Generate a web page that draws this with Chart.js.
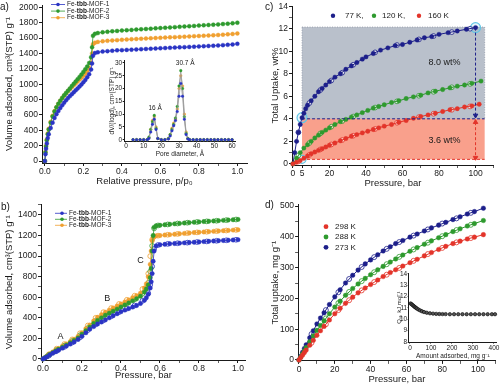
<!DOCTYPE html>
<html lang="en">
<head>
<meta charset="UTF-8">
<title>Fe-tbb-MOF adsorption</title>
<script src="https://cdn.jsdelivr.net/npm/chart.js"></script>
<style>
    body { margin: 0; background: #fff; font-family: 'Liberation Sans', Arial, sans-serif; }
    #fig { position: relative; width: 500px; height: 385px; overflow: hidden; }
    #fig canvas { position: absolute; }
    .tag { position: absolute; font-size: 10px; line-height: 1; color: #1a1a1a; }
</style>
</head>
<body>
<div id="fig">
    <canvas id="chartA" width="250" height="192" style="left:0;top:0"></canvas>
    <canvas id="chartC" width="250" height="192" style="left:250px;top:0"></canvas>
    <canvas id="chartB" width="250" height="193" style="left:0;top:192px"></canvas>
    <canvas id="chartD" width="250" height="193" style="left:250px;top:192px"></canvas>
    <canvas id="insetA" width="145" height="112" style="left:100px;top:52px"></canvas>
    <canvas id="insetD" width="106" height="98" style="left:394px;top:268px"></canvas>
    <div class="tag" style="left:0;top:2px">a)</div>
    <div class="tag" style="left:265px;top:2px">c)</div>
    <div class="tag" style="left:1px;top:202px">b)</div>
    <div class="tag" style="left:265px;top:200px">d)</div>
</div>
<script>
// ---------- a) N2 isotherms ----------
const A_NAMES = ['Fe-tbb-MOF-1', 'Fe-tbb-MOF-2', 'Fe-tbb-MOF-3'];
const A_P = [0, 0.003, 0.006, 0.01, 0.015, 0.02, 0.03, 0.04, 0.05, 0.06, 0.07, 0.08, 0.09, 0.1, 0.11, 0.12, 0.13, 0.14, 0.15, 0.16, 0.17, 0.18, 0.19, 0.2, 0.21, 0.22, 0.23, 0.24, 0.245, 0.25, 0.26, 0.275, 0.3, 0.325, 0.35, 0.375, 0.4, 0.425, 0.45, 0.475, 0.5, 0.525, 0.55, 0.575, 0.6, 0.625, 0.65, 0.675, 0.7, 0.725, 0.75, 0.775, 0.8, 0.825, 0.85, 0.875, 0.9, 0.925, 0.95, 0.975, 1.0];
const A_MOF1 = [0, 90, 160, 230, 300, 350, 430, 500, 560, 610, 650, 690, 725, 760, 790, 820, 845, 870, 895, 920, 945, 970, 995, 1025, 1055, 1090, 1130, 1190, 1270, 1370, 1405, 1415, 1424, 1430, 1435, 1440, 1443, 1446, 1449, 1452, 1455, 1458, 1461, 1464, 1467, 1470, 1473, 1476, 1479, 1482, 1485, 1488, 1491, 1494, 1497, 1500, 1504, 1508, 1512, 1517, 1525];
const A_MOF2 = [0, 110, 190, 270, 350, 410, 500, 580, 645, 700, 745, 785, 820, 855, 885, 915, 945, 975, 1005, 1035, 1065, 1095, 1125, 1160, 1195, 1230, 1275, 1350, 1480, 1630, 1655, 1665, 1675, 1682, 1688, 1693, 1698, 1702, 1706, 1710, 1714, 1718, 1722, 1726, 1730, 1734, 1738, 1742, 1746, 1750, 1754, 1758, 1762, 1766, 1770, 1774, 1778, 1782, 1787, 1792, 1800];
const A_MOF3 = [0, 120, 200, 280, 360, 420, 510, 590, 650, 700, 745, 785, 820, 850, 880, 910, 935, 960, 985, 1010, 1035, 1060, 1085, 1110, 1140, 1170, 1210, 1280, 1400, 1520, 1540, 1550, 1558, 1564, 1569, 1573, 1577, 1581, 1585, 1588, 1591, 1594, 1597, 1600, 1603, 1606, 1609, 1612, 1615, 1618, 1621, 1624, 1627, 1630, 1633, 1636, 1640, 1644, 1648, 1653, 1660];
const A_XTICKS = [0, 0.1, 0.2, 0.3, 0.4, 0.5, 0.6, 0.7, 0.8, 0.9, 1.0];
const A_XLABELS = [0, 0.2, 0.4, 0.6, 0.8, 1.0];
const A_YTICKS = [0, 200, 400, 600, 800, 1000, 1200, 1400, 1600, 1800, 2000];

// inset of a) pore size distribution
const IA_D = [4, 6, 8, 10, 12, 13, 14, 15, 16, 17, 18, 20, 22, 24, 25, 26, 27, 28, 29, 30, 31, 32, 33, 34, 35, 36, 38, 40, 42, 44, 46, 48, 50, 52, 54, 56, 58, 60];
const IA_MOF1 = [0, 0, 0, 0, 0, 0.5, 3, 6, 8, 4, 0.5, 0, 0, 0.3, 1.5, 3.5, 5.5, 7.5, 11, 17, 22, 17, 8, 2, 0.3, 0, 0, 0, 0, 0, 0, 0, 0, 0, 0, 0, 0, 0];
const IA_MOF2 = [0, 0, 0, 0, 0, 1, 4, 7, 9.5, 4.5, 0.5, 0, 0, 0.5, 2, 4, 6, 8.5, 13, 21, 27, 20, 9, 2.5, 0.5, 0, 0, 0, 0, 0, 0, 0, 0, 0, 0, 0, 0, 0];
const IA_MOF3 = [0, 0, 0, 0, 0, 0.8, 4, 7.5, 9, 5, 0.5, 0, 0, 0.5, 2, 4.5, 6.5, 8, 12, 20, 25, 21, 10, 3, 0.5, 0, 0, 0, 0, 0, 0, 0, 0, 0, 0, 0, 0, 0];
const IA_XTICKS = [0, 10, 20, 30, 40, 50, 60];
const IA_YTICKS = [0, 5, 10, 15, 20, 25, 30];

// ---------- b) isotherms, adsorption + desorption ----------
const B_P = [0, 0.01, 0.02, 0.035, 0.05, 0.065, 0.08, 0.1, 0.12, 0.14, 0.16, 0.18, 0.2, 0.22, 0.24, 0.26, 0.28, 0.3, 0.32, 0.34, 0.36, 0.38, 0.4, 0.42, 0.44, 0.46, 0.48, 0.5, 0.52, 0.53, 0.54, 0.55, 0.555, 0.56, 0.565, 0.57, 0.58, 0.6, 0.625, 0.65, 0.675, 0.7, 0.725, 0.75, 0.775, 0.8, 0.825, 0.85, 0.875, 0.9, 0.925, 0.95, 0.975, 1.0];
const B_MOF1 = [0, 10, 20, 40, 55, 70, 85, 105, 125, 145, 165, 190, 220, 255, 290, 315, 340, 360, 380, 400, 420, 440, 460, 475, 490, 505, 520, 540, 570, 595, 630, 690, 750, 830, 950, 1050, 1100, 1110, 1115, 1120, 1123, 1126, 1129, 1132, 1135, 1138, 1141, 1144, 1147, 1150, 1152, 1155, 1157, 1160];
const B_MOF2 = [0, 12, 25, 45, 62, 78, 95, 115, 135, 158, 180, 205, 240, 275, 310, 345, 375, 400, 425, 445, 465, 485, 505, 525, 545, 565, 585, 610, 650, 680, 720, 790, 880, 1050, 1200, 1280, 1295, 1300, 1305, 1310, 1314, 1318, 1322, 1326, 1330, 1333, 1336, 1339, 1342, 1345, 1348, 1351, 1354, 1357];
const B_MOF3 = [0, 13, 28, 50, 68, 85, 102, 125, 145, 168, 192, 220, 255, 295, 330, 370, 405, 430, 455, 475, 495, 515, 535, 555, 575, 595, 615, 640, 690, 730, 800, 920, 1050, 1150, 1180, 1192, 1197, 1200, 1205, 1209, 1213, 1217, 1221, 1225, 1229, 1232, 1235, 1238, 1241, 1244, 1247, 1250, 1253, 1256];
const B_DP = [0.03, 0.07, 0.11, 0.15, 0.19, 0.23, 0.27, 0.31, 0.35, 0.39, 0.43, 0.47, 0.51, 0.54, 0.55, 0.56, 0.57, 0.59, 0.64, 0.69, 0.74, 0.79, 0.84, 0.89, 0.94, 0.99];
const B_DES1 = [32, 78, 118, 160, 210, 280, 335, 375, 415, 455, 490, 520, 565, 640, 720, 900, 1070, 1108, 1119, 1125, 1131, 1137, 1143, 1149, 1154, 1159];
const B_DES2 = [38, 88, 130, 175, 230, 300, 370, 420, 460, 500, 540, 580, 635, 740, 850, 1100, 1270, 1298, 1308, 1317, 1325, 1332, 1338, 1344, 1350, 1356];
const B_DES3 = [45, 100, 145, 190, 250, 325, 400, 455, 495, 535, 575, 615, 680, 830, 1000, 1160, 1192, 1199, 1208, 1216, 1224, 1231, 1237, 1243, 1249, 1255];
const B_YTICKS = [0, 100, 200, 300, 400, 500, 600, 700, 800, 900, 1000, 1100, 1200, 1300, 1400, 1500];
const B_YLABELS = [0, 200, 400, 600, 800, 1000, 1200, 1400];

// ---------- c) H2 uptake ----------
const C_TEMPS = ['77 K,', '120 K,', '160 K'];
const C_P77 = [0, 1, 2, 3, 4, 5, 6, 7, 8, 10, 12, 14, 16, 18, 20, 23, 26, 29, 32, 35, 38, 40, 44, 48, 52, 56, 60, 64, 68, 72, 76, 80, 85, 90, 95, 100];
const C_77 = [0, 1.0, 2.0, 2.8, 3.5, 4.1, 4.5, 4.9, 5.2, 5.6, 6.0, 6.4, 6.7, 7.0, 7.3, 7.7, 8.0, 8.4, 8.7, 9.0, 9.3, 9.5, 9.8, 10.1, 10.3, 10.5, 10.6, 10.8, 11.0, 11.2, 11.3, 11.5, 11.65, 11.8, 11.95, 12.1];
const C_P120 = [0, 2, 4, 6, 8, 10, 12, 14, 16, 18, 20, 23, 26, 29, 32, 35, 38, 41, 44, 47, 50, 54, 58, 62, 66, 70, 74, 78, 82, 86, 90, 94, 98, 103];
const C_120 = [0, 0.5, 1.0, 1.4, 1.7, 2.0, 2.3, 2.55, 2.8, 3.0, 3.2, 3.5, 3.75, 3.95, 4.15, 4.35, 4.55, 4.75, 4.95, 5.1, 5.25, 5.45, 5.6, 5.8, 5.95, 6.1, 6.3, 6.45, 6.6, 6.75, 6.9, 7.0, 7.15, 7.35];
const C_P160 = [0, 2, 4, 6, 8, 10, 12, 14, 16, 18, 20, 23, 26, 29, 32, 35, 38, 41, 44, 47, 50, 54, 58, 62, 66, 70, 74, 78, 82, 86, 90, 94, 98, 102];
const C_160 = [0, 0.15, 0.3, 0.5, 0.7, 0.9, 1.05, 1.2, 1.35, 1.5, 1.65, 1.85, 2.05, 2.25, 2.45, 2.6, 2.75, 2.9, 3.05, 3.2, 3.35, 3.5, 3.7, 3.85, 4.05, 4.2, 4.35, 4.5, 4.65, 4.8, 4.9, 5.05, 5.15, 5.3];
const C_DP = [3, 9, 15, 21, 27, 33, 45, 57, 69, 77, 87, 97];
const C_D77 = [2.8, 5.4, 6.55, 7.4, 8.1, 8.8, 9.9, 10.55, 11.05, 11.35, 11.7, 12.0];
const C_D120 = [0.75, 1.85, 2.7, 3.3, 3.8, 4.2, 5.0, 5.55, 6.05, 6.4, 6.8, 7.1];
const C_D160 = [0.22, 0.8, 1.28, 1.72, 2.12, 2.5, 3.1, 3.65, 4.15, 4.45, 4.8, 5.1];
// working-capacity marks: 5 bar and 100 bar
const C_LOW = 5, C_HIGH = 100, C_END = 105;
const C_UP77_LOW = 4.0, C_UP77_HIGH = 12.1, C_UP160_LOW = 0.4;
const C_XTICKS = [0, 5, 10, 20, 30, 40, 50, 60, 70, 80, 90, 100, 110];
const C_XLABELS = [0, 5, 20, 40, 60, 80, 100];
const C_YTICKS = [0, 1, 2, 3, 4, 5, 6, 7, 8, 9, 10, 11, 12, 13, 14];
const C_YLABELS = [0, 2, 4, 6, 8, 10, 12, 14];

// ---------- d) CH4 uptake ----------
const D_TEMPS = ['298 K', '288 K', '273 K'];
const D_P = [0, 1, 2, 3, 4, 6, 8, 10, 12, 14, 17, 20, 23, 26, 30, 33, 37, 40, 44, 47, 51, 54, 58, 62, 66, 70, 74, 78, 82, 86, 90, 94, 98, 103];
const D_298 = [0, 8, 16, 24, 32, 48, 64, 80, 95, 109, 130, 150, 168, 184, 204, 218, 234, 245, 260, 271, 284, 293, 305, 316, 327, 338, 349, 359, 369, 378, 386, 393, 399, 407];
const D_288 = [0, 10, 20, 30, 40, 59, 78, 96, 112, 127, 150, 172, 191, 210, 232, 247, 265, 277, 293, 304, 318, 328, 341, 353, 365, 376, 387, 397, 407, 417, 426, 435, 443, 453];
const D_273 = [0, 12, 25, 37, 49, 72, 95, 117, 136, 153, 180, 205, 228, 250, 275, 292, 312, 325, 342, 354, 368, 378, 388, 399, 409, 419, 429, 438, 447, 456, 465, 474, 482, 493];
const D_DP = [7, 15, 22, 28, 35, 42, 49, 56, 64, 72, 80, 88, 96];
const D_D298 = [56, 116, 162, 194, 226, 253, 277, 299, 322, 344, 364, 382, 396];
const D_D288 = [69, 135, 185, 221, 256, 285, 311, 335, 359, 381, 402, 422, 439];
const D_D273 = [84, 162, 220, 263, 302, 334, 361, 383, 404, 424, 443, 460, 478];
const D_XTICKS = [0, 10, 20, 30, 40, 50, 60, 70, 80, 90, 100, 110];
const D_XLABELS = [0, 20, 40, 60, 80, 100];
const D_YTICKS = [0, 50, 100, 150, 200, 250, 300, 350, 400, 450, 500];
const D_YLABELS = [0, 100, 200, 300, 400, 500];

// inset of d) isosteric heat
const ID_AMT = [3, 8, 13, 18, 23, 28, 33, 40, 48, 57, 67, 80, 95, 110, 125, 140, 155, 170, 190, 210, 230, 250, 270, 290, 310, 330, 350, 370, 390, 405];
const ID_QST = [11.4, 11.33, 11.25, 11.17, 11.09, 11.02, 10.95, 10.87, 10.79, 10.71, 10.64, 10.58, 10.53, 10.5, 10.48, 10.47, 10.46, 10.46, 10.45, 10.45, 10.45, 10.45, 10.45, 10.45, 10.45, 10.45, 10.45, 10.45, 10.45, 10.45];
const ID_XTICKS = [0, 100, 200, 300, 400];
const ID_YTICKS = [8, 9, 10, 11, 12, 13, 14];

// colours
const BLUE = '#2a34c4', GREEN = '#2e9a2e', ORANGE = '#f0a030';
const NAVY = '#1d1f8a', RED = '#e3342a', CYAN = '#62c6e6';
const INK = '#1a1a1a';
const FONT = "'Liberation Sans', Arial, sans-serif";

Chart.defaults.font.family = FONT;
Chart.defaults.color = INK;
Chart.defaults.animation = false;

const xy = (xs, ys) => xs.map((x, i) => ({ x, y: ys[i] }));

// draws shaded boxes, text notes and hand-placed legends
const extras = {
    id: 'extras',
    beforeDatasetsDraw(chart, args, o) {
        const { ctx, scales: { x, y } } = chart;
        (o.boxes || []).forEach(b => {
            const l = x.getPixelForValue(b.x0), r = x.getPixelForValue(b.x1);
            const t = y.getPixelForValue(b.y1), bt = y.getPixelForValue(b.y0);
            ctx.save();
            ctx.fillStyle = b.fill;
            ctx.fillRect(l, t, r - l, bt - t);
            if (b.edge) {
                ctx.strokeStyle = b.edge;
                ctx.lineWidth = 0.8;
                ctx.setLineDash([1, 1.5]);
                ctx.strokeRect(l, t, r - l, bt - t);
            }
            ctx.restore();
        });
    },
    afterDatasetsDraw(chart, args, o) {
        const { ctx, scales: { x, y } } = chart;
        ctx.save();
        ctx.textBaseline = 'middle';
        (o.notes || []).forEach(n => {
            ctx.fillStyle = INK;
            ctx.textAlign = 'center';
            ctx.font = n.size + 'px ' + FONT;
            ctx.fillText(n.text, x.getPixelForValue(n.x), y.getPixelForValue(n.y));
        });
        (o.keys || []).forEach(k => {
            if (k.line) {
                ctx.strokeStyle = k.color;
                ctx.lineWidth = 0.8;
                ctx.beginPath();
                ctx.moveTo(k.line[0], k.my);
                ctx.lineTo(k.line[1], k.my);
                ctx.stroke();
            }
            ctx.beginPath();
            ctx.arc(k.mx, k.my, k.r, 0, Math.PI * 2);
            ctx.fillStyle = k.color;
            ctx.fill();
            ctx.textAlign = 'left';
            ctx.fillStyle = INK;
            let tx = k.tx;
            // "tbb" is set in bold in the original legend
            k.text.split(/(tbb)/).forEach(part => {
                ctx.font = (part === 'tbb' ? 'bold ' : '') + k.size + 'px ' + FONT;
                ctx.fillText(part, tx, k.my);
                tx += ctx.measureText(part).width;
            });
        });
        ctx.restore();
    }
};

function axis(o) {
    const vertical = o.pos === 'left';
    return {
        type: 'linear', position: o.pos, min: o.min, max: o.max,
        afterBuildTicks: s => { s.ticks = o.ticks.map(v => ({ value: v })); },
        afterFit: s => {
            if (vertical) { s.width = o.size; s.paddingTop = 0; s.paddingBottom = 0; }
            else { s.height = o.size; s.paddingLeft = 0; s.paddingRight = 0; }
        },
        ticks: {
            autoSkip: false, maxRotation: 0, padding: o.pad ?? 1, color: INK,
            font: { size: o.fs ?? 8.5 },
            callback: v => (o.labels || o.ticks).includes(v) ? (o.fmt ? o.fmt(v) : String(v)) : ''
        },
        grid: {
            drawOnChartArea: false, drawTicks: true, tickLength: o.tl ?? 3, tickColor: INK,
            tickWidth: c => (o.labels || o.ticks).includes(c.tick.value) ? 1 : 0.7
        },
        border: { display: true, color: INK, width: 1 },
        title: {
            display: true, text: o.title, color: INK, font: { size: o.tfs ?? 9.5 },
            padding: vertical ? { top: o.tpad, bottom: 0 } : { top: 0, bottom: o.tpad }
        }
    };
}

function series(data, color, r, extra) {
    return Object.assign({
        data, showLine: true, clip: false,
        borderColor: color, borderWidth: 0.8,
        pointRadius: r, pointHoverRadius: r,
        pointBackgroundColor: color, pointBorderColor: color, pointBorderWidth: 0.4
    }, extra || {});
}

function hollow(data, color, r) {
    return {
        data, showLine: false, clip: false,
        pointRadius: r, pointHoverRadius: r,
        pointBackgroundColor: 'rgba(255,255,255,0.6)', pointBorderColor: color, pointBorderWidth: 0.8
    };
}

function make(id, datasets, xAxis, yAxis, pad, extraOpts) {
    return new Chart(document.getElementById(id), {
        type: 'scatter',
        data: { datasets },
        options: {
            responsive: false, animation: false, events: [],
            layout: { padding: pad },
            scales: { x: xAxis, y: yAxis },
            plugins: { legend: { display: false }, tooltip: { enabled: false }, extras: extraOpts }
        },
        plugins: [extras]
    });
}

// a)
make('chartA', [
    series(xy(A_P, A_MOF1), BLUE, 2),
    series(xy(A_P, A_MOF2), GREEN, 2),
    series(xy(A_P, A_MOF3), ORANGE, 2)
],
axis({ pos: 'bottom', min: -0.015, max: 1.05, ticks: A_XTICKS, labels: A_XLABELS, fmt: v => v.toFixed(1),
       size: 29, title: 'Relative pressure, p/p\u2080', tpad: 5 }),
axis({ pos: 'left', min: -25, max: 2030, ticks: A_YTICKS, size: 42,
       title: 'Volume adsorbed, cm\u00b3(STP) g\u207b\u00b9', tpad: 3.3 }),
{ left: 0, top: 5, right: 3, bottom: 0 },
{ keys: A_NAMES.map((t, i) => ({ text: t, color: [BLUE, GREEN, ORANGE][i], mx: 58, my: 4.5 + 6.6 * i, r: 1.8, tx: 67, line: [51, 65], size: 6.5 })) });

make('insetA', [
    series(xy(IA_D, IA_MOF1), BLUE, 1.3, { borderColor: '#9a9a9a' }),
    series(xy(IA_D, IA_MOF2), GREEN, 1.3, { borderColor: '#9a9a9a' }),
    series(xy(IA_D, IA_MOF3), ORANGE, 1.3, { borderColor: '#9a9a9a' })
],
axis({ pos: 'bottom', min: -1, max: 62, ticks: IA_XTICKS, size: 23, title: 'Pore diameter, \u00c5',
       tpad: 5.8, fs: 6.5, tfs: 6.5, tl: 1.5, pad: 0 }),
axis({ pos: 'left', min: -0.5, max: 31, ticks: IA_YTICKS, size: 24.2, title: 'dV/(logd), cm\u00b3(STP) g\u207b\u00b9',
       tpad: 8, fs: 6.5, tfs: 6.5, tl: 1.5, pad: 0.5 }),
{ left: 0, top: 8.4, right: 9.4, bottom: 0 },
{ notes: [ { text: '16 \u00c5', x: 16.5, y: 12.5, size: 6.5 }, { text: '30.7 \u00c5', x: 33.5, y: 29.8, size: 6.5 } ] });

// b)
make('chartB', [
    series(xy(B_P, B_MOF1), BLUE, 2.2),
    series(xy(B_P, B_MOF2), GREEN, 2.2),
    series(xy(B_P, B_MOF3), ORANGE, 2.2),
    hollow(xy(B_DP, B_DES1), BLUE, 2.4),
    hollow(xy(B_DP, B_DES2), GREEN, 2.4),
    hollow(xy(B_DP, B_DES3), ORANGE, 2.4)
],
axis({ pos: 'bottom', min: -0.01, max: 1.04, ticks: A_XTICKS, labels: A_XLABELS, fmt: v => v.toFixed(1),
       size: 25, title: 'Pressure, bar', tpad: 4.3 }),
axis({ pos: 'left', min: -10, max: 1500, ticks: B_YTICKS, labels: B_YLABELS, size: 41,
       title: 'Volume adsorbed, cm\u00b3(STP) g\u207b\u00b9', tpad: 3.3 }),
{ left: 0, top: 12.7, right: 4.2, bottom: 0 },
{
    keys: A_NAMES.map((t, i) => ({ text: t, color: [BLUE, GREEN, ORANGE][i], mx: 62, my: 21.3 + 6 * i, r: 1.8, tx: 69, line: [55, 67], size: 6.5 })),
    notes: [ { text: 'A', x: 0.09, y: 215, size: 9 }, { text: 'B', x: 0.33, y: 590, size: 9 }, { text: 'C', x: 0.5, y: 960, size: 9 } ]
});

// c)
make('chartC', [
    { data: [{ x: C_LOW, y: C_UP77_LOW }, { x: C_END, y: C_UP77_LOW }], showLine: true, clip: false, borderColor: NAVY, borderWidth: 1, borderDash: [3, 2], pointRadius: 0 },
    { data: [{ x: C_LOW, y: C_UP160_LOW }, { x: C_END, y: C_UP160_LOW }], showLine: true, clip: false, borderColor: RED, borderWidth: 1, borderDash: [3, 2], pointRadius: 0 },
    { data: [{ x: C_HIGH, y: C_UP77_HIGH }, { x: C_HIGH, y: C_UP77_LOW + 0.3 }], showLine: true, clip: false, borderColor: NAVY, borderWidth: 1, borderDash: [3, 2],
      pointRadius: [0, 2.6], pointStyle: 'triangle', rotation: 180, pointBackgroundColor: NAVY, pointBorderColor: NAVY },
    { data: [{ x: C_HIGH, y: C_UP77_LOW - 0.3 }, { x: C_HIGH, y: C_UP160_LOW + 0.15 }], showLine: true, clip: false, borderColor: RED, borderWidth: 1, borderDash: [3, 2],
      pointRadius: 2.6, pointStyle: 'triangle', rotation: [0, 180], pointBackgroundColor: RED, pointBorderColor: RED },
    series(xy(C_P160, C_160), RED, 2.2, { borderWidth: 1 }),
    series(xy(C_P120, C_120), GREEN, 2.2, { borderWidth: 1 }),
    series(xy(C_P77, C_77), NAVY, 2.2, { borderWidth: 1 }),
    hollow(xy(C_DP, C_D160), RED, 2.4),
    hollow(xy(C_DP, C_D120), GREEN, 2.4),
    hollow(xy(C_DP, C_D77), NAVY, 2.4),
    { data: [{ x: C_LOW, y: C_UP77_LOW + 0.1 }, { x: C_HIGH, y: C_UP77_HIGH }, { x: C_LOW, y: C_UP160_LOW }], showLine: false, clip: false,
      pointRadius: [5, 5, 4], pointBackgroundColor: 'rgba(98,198,230,0.15)', pointBorderColor: CYAN, pointBorderWidth: 1.2 }
],
axis({ pos: 'bottom', min: -0.5, max: 110, ticks: C_XTICKS, labels: C_XLABELS, size: 27, title: 'Pressure, bar', tpad: 3.3, pad: 0.5 }),
axis({ pos: 'left', min: -0.1, max: 14, ticks: C_YTICKS, labels: C_YLABELS, size: 42, title: 'Total Uptake, wt%', tpad: 20 }),
{ left: 0, top: 5, right: 2.4, bottom: 0 },
{
    boxes: [
        { x0: C_LOW, x1: C_END, y0: C_UP77_LOW, y1: C_UP77_HIGH + 0.05, fill: '#b9c0cb', edge: '#8e96a4' },
        { x0: C_LOW, x1: C_END, y0: C_UP160_LOW, y1: C_UP77_LOW, fill: '#f9a08c' }
    ],
    notes: [ { text: '8.0 wt%', x: 83, y: 9.0, size: 9 }, { text: '3.6 wt%', x: 83, y: 2.05, size: 9 } ],
    keys: C_TEMPS.map((t, i) => ({ text: t, color: [NAVY, GREEN, RED][i], mx: [83, 124, 169][i], my: 15.7, r: 2.2, tx: [95, 132, 178][i], size: 8 }))
});

// d)
make('chartD', [
    series(xy(D_P, D_298), RED, 2.3, { borderWidth: 1 }),
    series(xy(D_P, D_288), GREEN, 2.3, { borderWidth: 1 }),
    series(xy(D_P, D_273), NAVY, 2.3, { borderWidth: 1 }),
    hollow(xy(D_DP, D_D298), RED, 2.5),
    hollow(xy(D_DP, D_D288), GREEN, 2.5),
    hollow(xy(D_DP, D_D273), NAVY, 2.5)
],
axis({ pos: 'bottom', min: -0.5, max: 110, ticks: D_XTICKS, labels: D_XLABELS, size: 24.1, title: 'Pressure, bar', tpad: 0.3 }),
axis({ pos: 'left', min: -3, max: 505, ticks: D_YTICKS, labels: D_YLABELS, size: 48.1, title: 'Total uptake, mg g\u207b\u00b9', tpad: 19.3 }),
{ left: 0, top: 12.5, right: 4.1, bottom: 0 },
{ keys: D_TEMPS.map((t, i) => ({ text: t, color: [RED, GREEN, NAVY][i], mx: 76, my: 34.7 + 10.3 * i, r: 2.4, tx: 85, size: 8 })) });

make('insetD', [
    series(xy(ID_AMT, ID_QST), '#111', 1.7, { showLine: false, pointBackgroundColor: '#555', pointBorderColor: '#000', pointBorderWidth: 0.6 })
],
axis({ pos: 'bottom', min: -6, max: 414, ticks: ID_XTICKS, size: 24, title: 'Amount adsorbed, mg g\u207b\u00b9',
       tpad: 6.1, fs: 6.5, tfs: 6.5, tl: 1.5, pad: 0.5 }),
axis({ pos: 'left', min: 8, max: 14.05, ticks: ID_YTICKS, size: 14.7, title: 'Q\u209b\u209c, kJ mol\u207b\u00b9',
       tpad: 2, fs: 6.5, tfs: 6, tl: 1, pad: 0.5 }),
{ left: 0, top: 5.4, right: 3.1, bottom: 0 },
{});
</script>
</body>
</html>
